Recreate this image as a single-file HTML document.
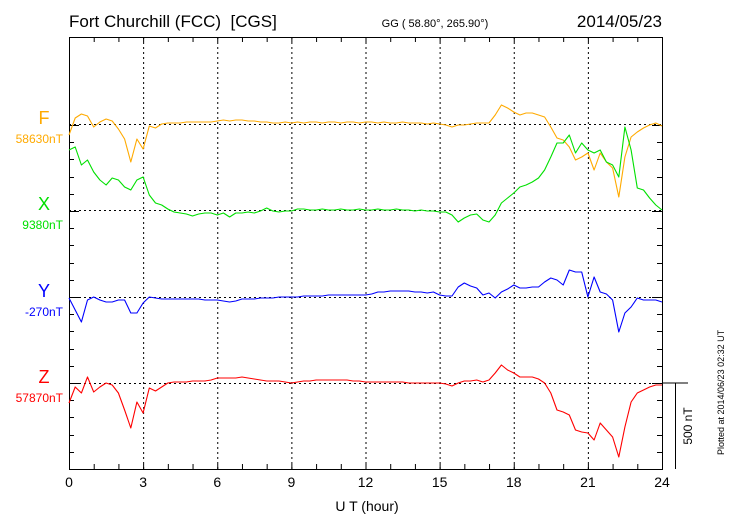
<!DOCTYPE html>
<html><head><meta charset="utf-8"><style>
html,body{margin:0;padding:0;background:#fff;}
svg{display:block;font-family:"Liberation Sans",sans-serif;}
</style></head><body>
<svg id="chart" width="730" height="520" viewBox="0 0 730 520">
<text x="69" y="27" font-size="17" fill="#000">Fort Churchill (FCC)&#160; [CGS]</text>
<text x="435" y="27" font-size="11" text-anchor="middle" fill="#000">GG ( 58.80°, 265.90°)</text>
<text x="662" y="27" font-size="17" text-anchor="end" fill="#000">2014/05/23</text>
<g id="grid"></g>
<g id="axes"></g>
<g id="series"></g>
<g id="labels"></g>
<text x="367" y="511" font-size="14" text-anchor="middle" fill="#000">U T (hour)</text>
<line x1="662" y1="383" x2="688" y2="383" stroke="#000" stroke-width="1"/>
<line x1="675.5" y1="383" x2="675.5" y2="469" stroke="#000" stroke-width="1"/>
<text transform="translate(692,426) rotate(-90)" font-size="12" text-anchor="middle" fill="#000">500 nT</text>
<text transform="translate(724,455) rotate(-90)" font-size="9" fill="#000">Plotted at 2014/06/23 02:32 UT</text>
</svg>
<script>
const xTicks = [0,3,6,9,12,15,18,21,24];
const seriesNames = ["F","X","Y","Z"];
const baseValues = ["58630nT","9380nT","-270nT","57870nT"];
const hours = [];
for (let i = 0; i <= 96; i++) hours.push(i * 0.25);
const fValues = [-66,36,60,48,-18,12,30,18,-30,-90,-228,-90,-150,-12,-24,0,6,6,6,12,12,12,12,12,18,24,18,24,24,18,18,12,12,6,6,12,6,12,6,12,12,6,12,12,6,12,12,6,12,12,6,12,6,6,12,6,6,6,0,6,0,-6,-18,-6,-6,0,6,6,6,54,114,96,72,54,66,66,54,42,-18,-84,-96,-138,-216,-198,-174,-276,-174,-228,-264,-438,-198,-78,-48,-24,-6,6,-12];
const xValues = [360,378,270,300,228,180,150,192,180,138,120,180,198,90,42,30,6,-12,-18,-24,-36,-24,-18,-18,-30,-18,-42,-18,-18,-12,-18,-6,12,-6,-12,-6,-6,6,6,0,0,6,0,0,6,0,0,6,0,0,6,0,0,6,0,0,-6,0,-6,-6,-12,-12,-30,-72,-48,-30,-24,-60,-72,-30,42,72,102,138,150,168,192,240,318,402,402,450,342,402,360,342,360,288,270,198,498,360,132,120,72,30,0];
const yValues = [-6,-78,-150,-18,0,-18,-30,-30,-18,-18,-96,-96,-36,0,-6,-12,-12,-12,-12,-12,-12,-12,-18,-18,-18,-24,-30,-24,-12,-12,-12,-6,-6,-6,0,0,0,0,6,6,6,6,12,12,12,12,12,12,12,18,30,30,36,36,36,36,30,30,24,30,12,6,6,60,84,66,54,12,24,-6,30,48,72,54,54,60,60,90,114,102,72,162,150,150,0,120,30,18,-18,-210,-96,-60,-6,-18,-18,-18,-30];
const zValues = [-120,-24,-60,36,-54,-24,0,-12,-60,-162,-270,-114,-180,-30,-48,-24,0,6,6,6,12,12,12,18,30,30,30,30,36,30,24,18,12,12,12,6,0,6,12,12,18,18,18,18,18,18,12,12,6,6,6,6,6,6,6,0,0,0,0,0,0,-6,-18,0,12,12,18,6,18,60,108,78,60,36,36,36,24,0,-60,-162,-174,-192,-282,-294,-300,-342,-240,-282,-324,-444,-264,-114,-60,-42,-24,-12,-12];

const NS = "http://www.w3.org/2000/svg";
const L = 69, R = 662, T = 37, B = 469;
const baselines = [124, 210, 297, 383];
const colors = ["#ffaa00", "#00e000", "#0000ff", "#ff0000"];
const nTperPx = 6;
function xScale(h) { return L + (R - L) * h / 24; }
function yScale(v, idx) { return baselines[idx] - v / nTperPx; }
function mk(tag, attrs, parent) {
  const e = document.createElementNS(NS, tag);
  for (const k in attrs) e.setAttribute(k, attrs[k]);
  parent.appendChild(e);
  return e;
}
const grid = document.getElementById("grid");
const axes = document.getElementById("axes");
const series = document.getElementById("series");
const labels = document.getElementById("labels");

xTicks.forEach(function (t) {
  const x = xScale(t) + 0.5;
  if (t > 0 && t < 24) {
    const g = mk("line", {x1: x, y1: T, x2: x, y2: B, stroke: "#000", "stroke-width": 1, "stroke-dasharray": "2,3"}, grid);
    
    
  }
  const tl = mk("text", {x: xScale(t), y: 487, "font-size": 14, "text-anchor": "middle", fill: "#000"}, axes);
  tl.textContent = t;
  
  
});
baselines.forEach(function (b) {
  const g = mk("line", {x1: L, y1: b + 0.5, x2: R, y2: b + 0.5, stroke: "#000", "stroke-width": 1, "stroke-dasharray": "2,3"}, grid);
  
  
});
const fr = mk("rect", {x: L + 0.5, y: T + 0.5, width: R - L, height: B - T, fill: "none", stroke: "#000", "stroke-width": 1}, axes);


for (let h = 1; h < 24; h++) {
  const x = xScale(h) + 0.5;
  const a = mk("line", {x1: x, y1: T, x2: x, y2: T + 5, stroke: "#000"}, axes);
  
  
  const b = mk("line", {x1: x, y1: B - 5, x2: x, y2: B, stroke: "#000"}, axes);
  
  
}
const step = (B - 383) / 5;
for (let k = -15; k <= 5; k++) {
  const y = 383 + k * step;
  if (y <= T + 1 || y >= B - 1) continue;
  const isBase = baselines.some(function (b) { return Math.abs(b - y) < 2; });
  const len = isBase ? 10 : 5;
  const a = mk("line", {x1: L, y1: Math.round(y) + 0.5, x2: L + len, y2: Math.round(y) + 0.5, stroke: "#000"}, axes);
  
  
  const b = mk("line", {x1: R - len, y1: Math.round(y) + 0.5, x2: R, y2: Math.round(y) + 0.5, stroke: "#000"}, axes);
  
  
}
[fValues, xValues, yValues, zValues].forEach(function (vals, idx) {
  const pts = vals.map(function (v, i) { return xScale(hours[i]).toFixed(1) + "," + yScale(v, idx).toFixed(1); }).join(" ");
  const p = mk("polyline", {points: pts, fill: "none", stroke: colors[idx], "stroke-width": 1.1, "stroke-linejoin": "round"}, series);
  
  
  const n = mk("text", {x: 44, y: baselines[idx], "font-size": 18, "text-anchor": "middle", fill: colors[idx]}, labels);
  n.textContent = seriesNames[idx];
  
  
  const bv = mk("text", {x: 63, y: baselines[idx] + 19, "font-size": 12, "text-anchor": "end", fill: colors[idx]}, labels);
  bv.textContent = baseValues[idx];
  
  
});
</script>
</body></html>
